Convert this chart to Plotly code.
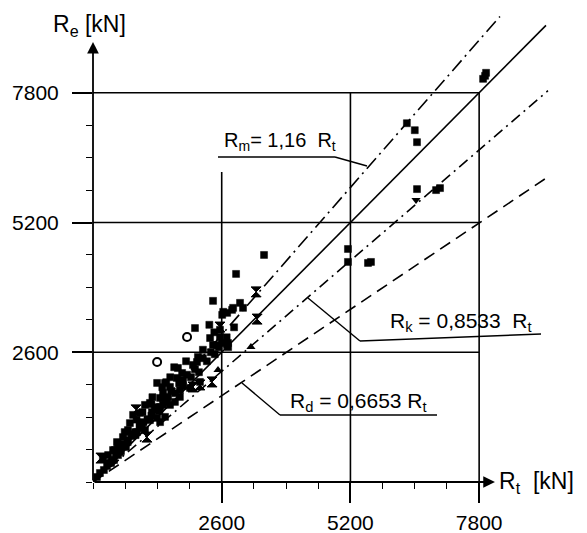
import plotly.graph_objects as go

# ---------------- data (kN) ----------------
sq_x = [7880, 7940, 7920, 6340, 6500, 6545, 6545, 7010, 6930, 5150, 5150, 5555, 5615, 3455, 2890, 2425,
        2970, 3030, 2830, 2810, 2710, 2610, 2630, 2565, 2565, 2705, 2730, 2505, 2365, 2425, 2060, 2120,
        2100, 2020, 1715, 1800, 1695, 1820, 1295, 1455, 1555, 1415, 1515, 1355, 1755, 2160, 1960, 1755,
        1655, 1555, 1355, 1150, 810, 745, 950, 890, 1050, 1295, 1455, 1355, 605, 485, 545, 405, 305, 200,
        80, 140, 220, 285, 365, 425, 505, 565, 665, 705, 790, 850, 990, 1150, 1190, 1050, 950, 1250, 1415,
        705, 445, 2606, 2727,
        300, 380, 460, 540, 620, 700, 780, 860, 940, 1020, 1100, 1180, 1260, 1340, 1420, 1500, 1580, 1660,
        1740, 1820, 1900, 1980, 2060, 2140, 2220, 2300, 2380, 2460, 2540, 2220, 1880, 1640, 1560, 1400,
        1200, 1000, 880, 640, 500, 2700, 2850, 2450, 2350, 1180, 1480]
sq_y = [8080, 8200, 8140, 7190, 7050, 6810, 5870, 5890, 5850, 4670, 4410, 4390, 4410, 4550, 4170, 3630,
        3590, 3490, 3490, 3450, 3390, 3350, 3410, 3050, 2905, 2745, 2705, 2745, 2885, 2745, 3085, 2505,
        2405, 2345, 2285, 2185, 2085, 2045, 1985, 1985, 1905, 1785, 1705, 1685, 1845, 2005, 1885, 1705,
        1605, 1545, 1505, 1585, 1345, 1180, 1180, 1000, 1040, 1285, 1305, 1200, 900, 800, 700, 640, 540, 480,
        100, 180, 240, 320, 380, 440, 540, 620, 700, 840, 920, 1000, 1080, 1240, 1400, 1545, 1385, 1445, 1545,
        1040, 640, 2785, 2785,
        380, 430, 560, 600, 760, 800, 960, 940, 1110, 1200, 1260, 1330, 1500, 1420, 1680, 1600, 1820, 1780,
        1980, 1920, 2150, 2100, 2260, 2200, 2480, 2420, 2600, 2560, 2700, 2650, 2420, 2300, 2100, 1900,
        1700, 1400, 1250, 1000, 760, 2900, 3100, 3000, 3150, 1560, 2000]

hg_x = [3295, 3315, 2565, 2020, 2405, 870, 1090, 160, 2160]
hg_y = [3810, 3265, 3105, 1905, 2005, 1445, 900, 480, 1945]

tri_x = [3190, 2525]
tri_y = [2705, 2245]

trid_x = [6525]
trid_y = [5650]

circ_x = [1900, 1295]
circ_y = [2905, 2405]

line_names = ["Rm", "Rt", "Rk", "Rd"]
line_slopes = [1.135, 1.0, 0.8533, 0.6653]
line_end_x = [8220, 9150, 9190, 9150]

tick_vals = [2600, 5200, 7800]
tick_text = ["2600", "5200", "7800"]
minor_step = 650

# ---------------- figure ----------------
PAGE_W, PAGE_H = 587, 533
OFF = 8                      # default body margin of the html page
W, H = PAGE_W - OFF, PAGE_H - OFF
AX_X, AX_Y = 93, 482         # page position of the origin
ML = AX_X - OFF
MB = PAGE_H - AX_Y
PW = W - ML                  # plot width
PH = H - MB                  # plot height
kx = 20.2   # kN per px
ky = 20.04
xmax = PW * kx
ymax = PH * ky

FONT = "Liberation Sans, Arial, sans-serif"
fig = go.Figure()

dashes = ["14px,5px,2px,5px", "solid", "11px,5px,2px,5px", "12px,7px"]
for name, s, xe, d in zip(line_names, line_slopes, line_end_x, dashes):
    fig.add_trace(go.Scatter(x=[0, xe], y=[0, s * xe], mode="lines",
                             line=dict(color="black", width=1.6, dash=d),
                             hoverinfo="skip", showlegend=False, cliponaxis=False))

fig.add_trace(go.Scatter(x=sq_x, y=sq_y, mode="markers", cliponaxis=False, showlegend=False,
                         marker=dict(symbol="square", size=7, color="black",
                                     line=dict(color="black", width=0.5))))
fig.add_trace(go.Scatter(x=hg_x, y=hg_y, mode="markers", cliponaxis=False, showlegend=False,
                         marker=dict(symbol="hourglass", size=10, color="black",
                                     line=dict(color="black", width=1))))
fig.add_trace(go.Scatter(x=tri_x, y=tri_y, mode="markers", cliponaxis=False, showlegend=False,
                         marker=dict(symbol="triangle-up", size=8, color="black")))
fig.add_trace(go.Scatter(x=trid_x, y=trid_y, mode="markers", cliponaxis=False, showlegend=False,
                         marker=dict(symbol="triangle-down", size=8, color="black")))
fig.add_trace(go.Scatter(x=circ_x, y=circ_y, mode="markers", cliponaxis=False, showlegend=False,
                         marker=dict(symbol="circle-open", size=8, color="black",
                                     line=dict(color="black", width=2))))

lw = 1.6
shapes = []
def seg(x0, y0, x1, y1, w=lw):
    shapes.append(dict(type="line", xref="x", yref="y", x0=x0, y0=y0, x1=x1, y1=y1,
                       line=dict(color="black", width=w)))

# grid frame lines
for v in tick_vals:
    seg(0, v, tick_vals[-1], v)
seg(tick_vals[0], 0, tick_vals[0], 6210)
seg(tick_vals[1], 0, tick_vals[1], tick_vals[-1])
seg(tick_vals[2], 0, tick_vals[2], tick_vals[-1])

# label leader lines
seg(2525, 6513, 4888, 6513, 1.4)
seg(4888, 6513, 5535, 6333, 1.4)
seg(4343, 3687, 5393, 2826, 1.4)
seg(5393, 2826, 9050, 2966, 1.4)
seg(3010, 1984, 3777, 1343, 1.4)
seg(3777, 1343, 6949, 1343, 1.4)

annotations = [
    # axis arrows
    dict(x=8120, y=0, ax=0, ay=0, xref="x", yref="y", axref="x", ayref="y", text="",
         showarrow=True, arrowhead=2, arrowsize=1.3, arrowwidth=1.8, arrowcolor="black"),
    dict(x=0, y=8820, ax=0, ay=0, xref="x", yref="y", axref="x", ayref="y", text="",
         showarrow=True, arrowhead=2, arrowsize=1.3, arrowwidth=1.8, arrowcolor="black"),
    # axis titles
    dict(x=8160, y=0, xref="x", yref="y", xanchor="left", yanchor="middle", showarrow=False,
         text="R<sub>t</sub>  [kN]", font=dict(family=FONT, size=23, color="black")),
    dict(x=(89 - AX_X) / PW, y=(AX_Y - 26) / PH, xref="paper", yref="paper",
         xanchor="center", yanchor="middle", showarrow=False,
         text="R<sub>e</sub> [kN]", font=dict(family=FONT, size=23, color="black")),
    # line labels
    dict(x=3777, y=6814, xref="x", yref="y", showarrow=False, xanchor="center", yanchor="middle",
         text="R<sub>m</sub>= 1,16  R<sub>t</sub>", font=dict(family=FONT, size=20, color="black")),
    dict(x=7434, y=3206, xref="x", yref="y", showarrow=False, xanchor="center", yanchor="middle",
         text="R<sub>k</sub> = 0,8533  R<sub>t</sub>", font=dict(family=FONT, size=21, color="black")),
    dict(x=5353, y=1603, xref="x", yref="y", showarrow=False, xanchor="center", yanchor="middle",
         text="R<sub>d</sub> = 0,6653 R<sub>t</sub>", font=dict(family=FONT, size=21, color="black")),
]

minor_vals = list(range(0, tick_vals[-1] + 1, minor_step))

axis_common = dict(showgrid=False, zeroline=False, showline=False,
                   ticks="outside", tickvals=tick_vals, ticktext=tick_text,
                   ticklen=20, tickwidth=1.6, tickcolor="black",
                   tickfont=dict(family=FONT, size=21, color="black"),
                   minor=dict(tickvals=minor_vals, ticks="outside", ticklen=6,
                              tickwidth=1.4, tickcolor="black", showgrid=False))

fig.update_layout(
    width=W, height=H,
    margin=dict(l=ML, r=0, t=0, b=MB, autoexpand=False),
    plot_bgcolor="white", paper_bgcolor="white",
    xaxis=dict(range=[0, xmax], ticklabelstandoff=2, **axis_common),
    yaxis=dict(range=[0, ymax], ticklabelstandoff=9, **axis_common),
    shapes=shapes, annotations=annotations, showlegend=False,
)

fig.write_html("out.html")
